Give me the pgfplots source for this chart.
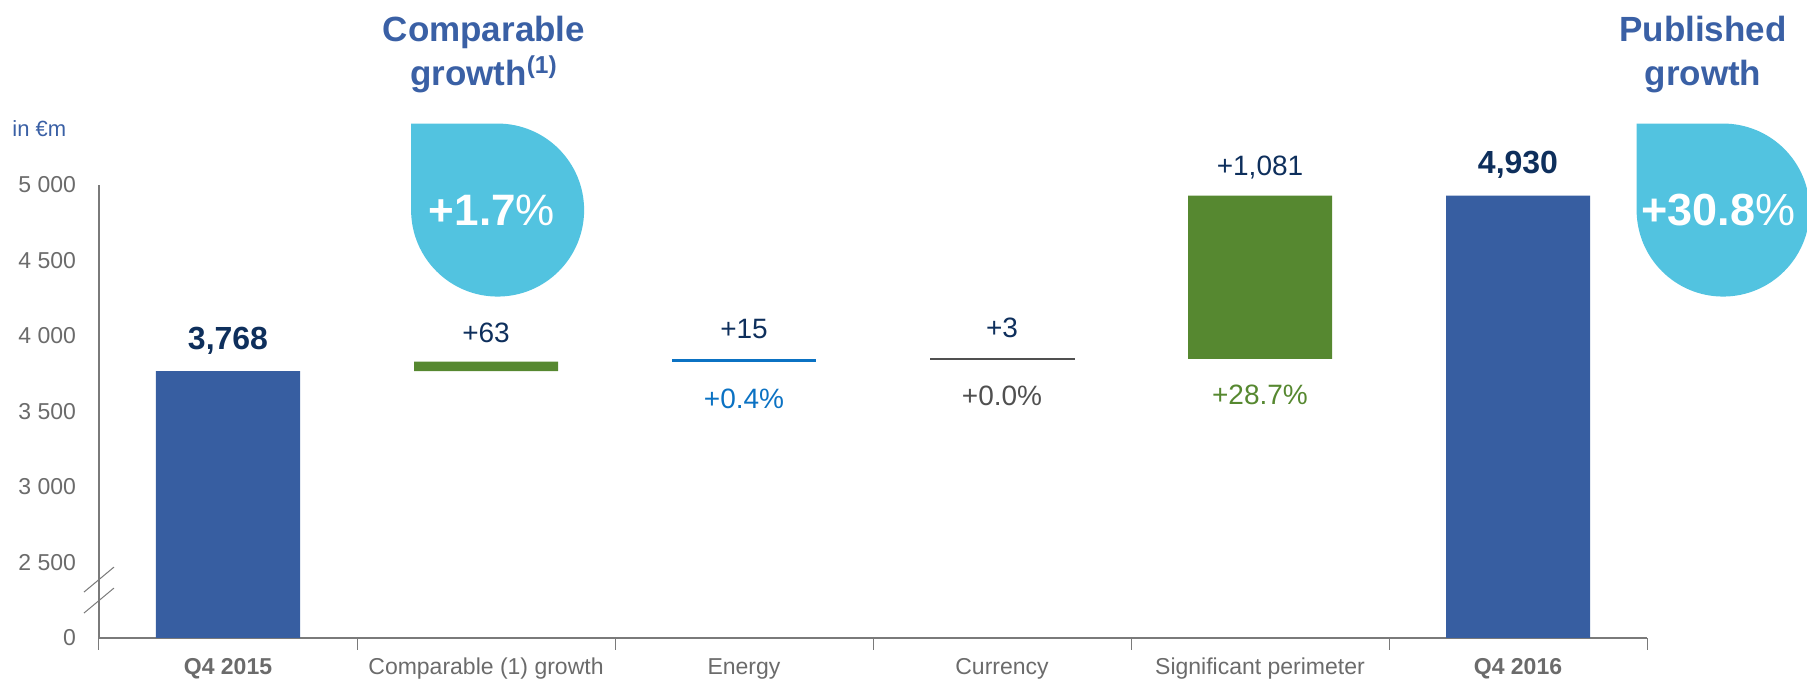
\documentclass[border=0pt]{standalone}
\usepackage{pgfplots}
\pgfplotsset{compat=1.18}
\usepackage{pgfplotstable}
\usepackage{fontspec}
\setmainfont{Liberation Sans}

\definecolor{barblue}{HTML}{375EA1}
\definecolor{bargreen}{HTML}{568830}
\definecolor{energyblue}{HTML}{0B72C3}
\definecolor{navy}{HTML}{0E2F5C}
\definecolor{titleblue}{HTML}{3A60A5}
\definecolor{drop}{HTML}{52C3E0}
\definecolor{axisgray}{HTML}{7A7A7A}
\definecolor{labelgray}{HTML}{6B6B6B}
\definecolor{darkgray}{HTML}{505050}

% waterfall: invisible base + one column per colour
\pgfplotstableread{
x base currency total up energy
0 0    0 3768 0    0
1 3768 0 0    63   0
2 3831 0 0    0    15
3 3846 3 0    0    0
4 3849 0 0    1081 0
5 0    0 4930 0    0
}\waterfall

\newcommand{\fs}[1]{\fontsize{#1}{#1}\selectfont}

\begin{document}
\begin{tikzpicture}
\path[use as bounding box] (-49.5pt,-21pt) rectangle (854pt,319pt);
\begin{axis}[
  scale only axis, width=774pt, height=226.5pt,
  ybar stacked, bar width=72pt,
  xmin=-0.5, xmax=5.5, ymin=2000, ymax=5000,
  enlargelimits=false,
  clip mode=individual,
  axis lines*=left,
  axis line style={axisgray, line width=0.8pt},
  xtick={0,...,5},
  xticklabels={\textbf{Q4 2015},Comparable (1) growth,Energy,Currency,Significant perimeter,\textbf{Q4 2016}},
  minor xtick={-0.5,0.5,...,5.5},
  ytick={2000,2500,3000,3500,4000,4500,5000},
  yticklabels={0,2 500,3 000,3 500,4 000,4 500,5 000},
  major tick length=0pt, minor tick length=6pt, tick align=outside,
  tick style={axisgray, line width=0.5pt},
  xticklabel style={font=\fs{11.5}, text=labelgray, anchor=base, yshift=-18.5pt},
  yticklabel style={font=\fs{11.5}, text=labelgray, xshift=-8pt},
]
\addplot[fill=none, draw=none] table[x=x, y=base] {\waterfall};
\addplot[fill=darkgray, draw=darkgray, line width=0.4pt] table[x=x, y=currency] {\waterfall};
\addplot[fill=barblue, draw=none] table[x=x, y=total] {\waterfall};
\addplot[fill=bargreen, draw=none] table[x=x, y=up] {\waterfall};
\addplot[fill=energyblue, draw=none] table[x=x, y=energy] {\waterfall};

% value labels
\node[anchor=base, text=navy, font=\bfseries\fs{16}, yshift=11pt] at (axis cs:0,3768) {3,768};
\node[anchor=base, text=navy, font=\fs{14}, yshift=9.5pt] at (axis cs:1,3831) {+63};
\node[anchor=base, text=navy, font=\fs{14}, yshift=10.5pt] at (axis cs:2,3846) {+15};
\node[anchor=base, text=navy, font=\fs{14}, yshift=10.5pt] at (axis cs:3,3849) {+3};
\node[anchor=base, text=navy, font=\fs{14}, yshift=10pt] at (axis cs:4,4930) {+1,081};
\node[anchor=base, text=navy, font=\bfseries\fs{16}, yshift=11pt] at (axis cs:5,4930) {4,930};
\node[text=energyblue, font=\fs{14}, yshift=-18.5pt] at (axis cs:2,3831) {+0.4\%};
\node[text=darkgray, font=\fs{14}, yshift=-18.5pt] at (axis cs:3,3846) {+0.0\%};
\node[text=bargreen, font=\fs{14}, yshift=-18pt] at (axis cs:4,3849) {+28.7\%};

% axis break
\draw[axisgray, line width=0.5pt] ([shift={(-7.5pt,-6.25pt)}]axis cs:-0.5,2387) -- ([shift={(7.5pt,6.25pt)}]axis cs:-0.5,2387);
\draw[axisgray, line width=0.5pt] ([shift={(-7.5pt,-6.25pt)}]axis cs:-0.5,2248) -- ([shift={(7.5pt,6.25pt)}]axis cs:-0.5,2248);

% unit
\node[anchor=base west, inner sep=0pt, text=titleblue, font=\fs{11}] at (axis cs:-0.837,5318) {in €m};

% anchors for the growth badges, drawn after the axis
\coordinate (c1) at (axis cs:1.045,4834);
\coordinate (t1) at (axis cs:1.023,4834);
\coordinate (c2) at (axis cs:5.795,4834);
\coordinate (t2) at (axis cs:5.777,4834);

\node[anchor=base, text=titleblue, font=\bfseries\fs{17.5}] at (axis cs:0.992,5947) {Comparable};
\node[anchor=base, text=titleblue, font=\bfseries\fs{17.5}] at (axis cs:0.992,5657) {growth\textsuperscript{(1)}};
\node[anchor=base, text=titleblue, font=\bfseries\fs{17.5}] at (axis cs:5.717,5947) {Published};
\node[anchor=base, text=titleblue, font=\bfseries\fs{17.5}] at (axis cs:5.717,5657) {growth};
\end{axis}

\fill[drop] ([shift={(-43.25pt,43.25pt)}]c1) -- ([yshift=43.25pt]c1)
  arc[start angle=90, end angle=-180, radius=43.25pt] -- cycle;
\node[text=white, font=\bfseries\fs{22}] at (t1) {+1.7\textmd{\%}};
\fill[drop] ([shift={(-43.25pt,43.25pt)}]c2) -- ([yshift=43.25pt]c2)
  arc[start angle=90, end angle=-180, radius=43.25pt] -- cycle;
\node[text=white, font=\bfseries\fs{22.5}] at (t2) {+30.8\textmd{\%}};
\end{tikzpicture}
\end{document}
